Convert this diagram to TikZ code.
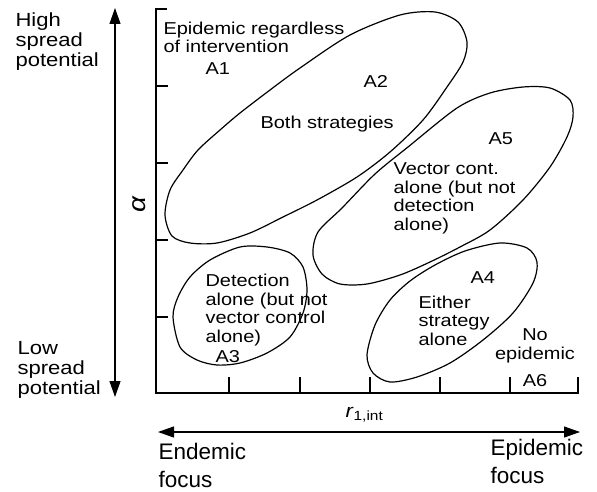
\documentclass[tikz,border=0pt]{standalone}
\usepackage{fontspec}
\setmainfont{Liberation Sans}[FakeStretch=1.16]
\newfontfamily\focusfont{Liberation Sans}
\usetikzlibrary{arrows.meta}

\begin{document}
\begin{tikzpicture}[x=1pt,y=-1pt,line width=1.1pt,
  region/.style={line width=1.2pt},
  lbl/.style={inner sep=0pt,align=left,font=\fontsize{17.2}{18.5}\selectfont},
  side/.style={inner sep=0pt,align=left,font=\fontsize{19}{20}\selectfont},
  focus/.style={inner sep=0pt,align=left,font=\focusfont\fontsize{22.5}{28}\selectfont},
  both tips/.style={{Triangle[length=16pt,width=11pt]}-{Triangle[length=16pt,width=11pt]}}]
 \useasboundingbox (0,0) rectangle (597,492);
 % axes with ticks
 \draw (167,9) -- (156,9) -- (156,393) -- (578,393) -- (578,377);
 \foreach \y in {86,163,240,317} \draw (156,\y) -- (168,\y);
 \foreach \x in {229,300,370,440,510} \draw (\x,393) -- (\x,377);
 % outer arrows
 \coordinate (hi) at (115,8);
 \coordinate (lo) at (115,397);
 \coordinate (west) at (158,432);
 \coordinate (east) at (580,432);
 \draw[both tips] (lo) -- (hi);
 \draw[both tips] (west) -- (east);
 % regions
 \draw[region] plot[smooth cycle] coordinates {(165,215) (170,190) (183,170) (198,150)
   (220,130) (240,113) (270,90) (300,68) (350,35) (400,15) (435,12) (458,22) (467,42)
   (463,62) (447,87) (423,120) (390,152) (357,177) (317,200) (283,217) (250,233)
   (217,243) (190,243) (172,236)};
 \draw[region] plot[smooth cycle] coordinates {(313,255) (318,232) (342,208) (375,174)
   (408,147) (457,108) (490,93) (523,87) (550,88) (570,100) (573,117) (567,137)
   (550,167) (523,200) (490,230) (460,247) (430,262) (400,275) (367,284) (340,284)
   (322,274)};
 \draw[region] plot[smooth cycle] coordinates {(367,355) (375,325) (390,300) (410,281)
   (435,265) (465,251) (500,243) (527,248) (537,262) (533,283) (513,313) (483,340)
   (450,363) (417,377) (390,382) (373,373)};
 \draw[region] plot[smooth cycle] coordinates {(173,317) (180,347) (197,360) (217,365)
   (240,363) (267,353) (290,337) (303,313) (307,290) (303,267) (290,253) (267,247)
   (240,247) (210,260) (190,277) (178,297)};
 % labels (multi-line nodes sit on their last baseline)
 \node[side,anchor=base west] (high) at (15,67) {High\\spread\\potential};
 \node[side,anchor=base west] (low) at (17,394) {Low\\spread\\potential};
 \node[rotate=90,inner sep=0pt,font=\fontsize{24}{24}\selectfont] (alpha) at (139,204) {\textit{α}};
 \node[side,anchor=base west] (rint) at (345,417) {\textit{r}\textsubscript{1,int}};
 \node[focus,anchor=base west] (endemic) at (158,487) {Endemic\\focus};
 \node[focus,anchor=base west] (epidemic) at (490,483) {Epidemic\\focus};
 \node[lbl,anchor=base west] (a1txt) at (163,53) {Epidemic regardless\\of intervention};
 \node[lbl,anchor=base west] (a1) at (205,75) {A1};
 \node[lbl,anchor=base west] (a2) at (363,88) {A2};
 \node[lbl,anchor=base west] (a2txt) at (260,129) {Both strategies};
 \node[lbl,anchor=base west] (a5) at (488,145) {A5};
 \node[lbl,anchor=base west] (a5txt) at (393,230) {Vector cont.\\alone (but not\\detection\\alone)};
 \node[lbl,anchor=base west] (a3txt) at (205,342) {Detection\\alone (but not\\vector control\\alone)};
 \node[lbl,anchor=base west] (a3) at (215,362) {A3};
 \node[lbl,anchor=base west] (a4) at (470,283) {A4};
 \node[lbl,anchor=base west] (a4txt) at (418,345) {Either\\strategy\\alone};
 \node[lbl,anchor=base,align=center] (a6txt) at (535,359) {No\\epidemic};
 \node[lbl,anchor=base] (a6) at (535,386) {A6};
\end{tikzpicture}
\end{document}
